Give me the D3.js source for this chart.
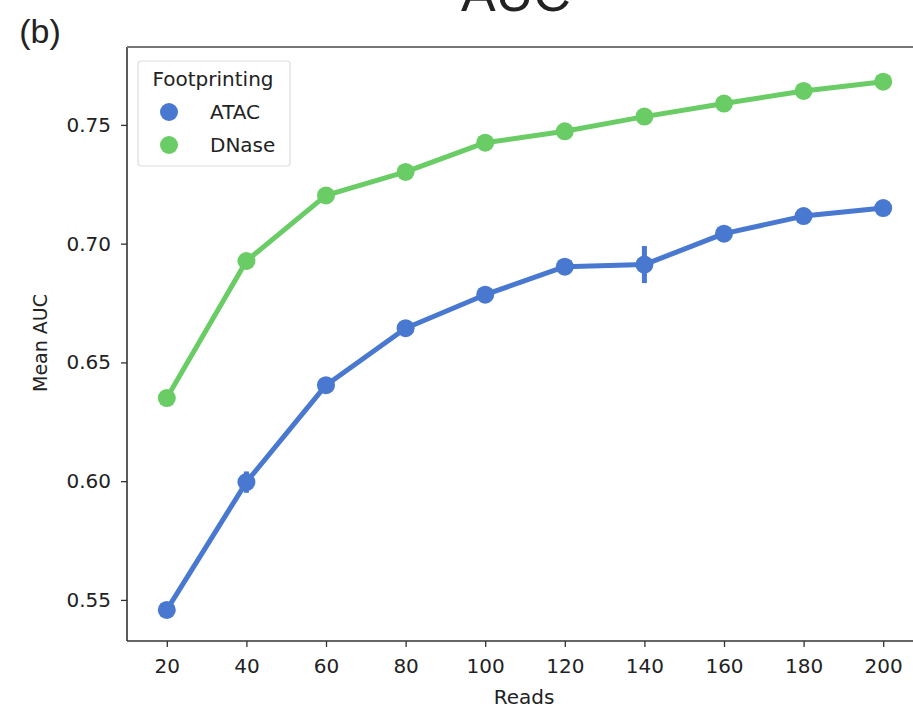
<html>
<head>
<script src="https://d3js.org/d3.v7.min.js"></script>
<style>
  body { margin: 0; background: #fff; }
  text { font-family: "DejaVu Sans", sans-serif; fill: #222; }
</style>
</head>
<body>
<div id="chart"></div>
<script>
// data
var reads = [20, 40, 60, 80, 100, 120, 140, 160, 180, 200];
var atacMean = [0.5458, 0.5996, 0.6404, 0.6644, 0.6785, 0.6903, 0.6912, 0.7042, 0.7116, 0.7150];
var atacErr  = [0.0030, 0.0045, 0.0020, 0.0015, 0.0015, 0.0012, 0.0078, 0.0015, 0.0012, 0.0015];
var dnaseMean = [0.6350, 0.6927, 0.7203, 0.7302, 0.7425, 0.7473, 0.7535, 0.7590, 0.7643, 0.7682];
var dnaseErr  = [0.0025, 0.0020, 0.0012, 0.0010, 0.0010, 0.0010, 0.0010, 0.0010, 0.0010, 0.0010];
var yTicks = [0.55, 0.60, 0.65, 0.70, 0.75];

var series = [
  {name: "ATAC", mean: atacMean, err: atacErr, color: "#4878cf"},
  {name: "DNase", mean: dnaseMean, err: dnaseErr, color: "#6acc65"}
];

var W = 913, H = 708;
var mLeft = 127, mTop = 47, mBottom = 641, mRight = 923;

var svg = d3.select("#chart").append("svg")
  .attr("width", W).attr("height", H);

// categorical x like a seaborn pointplot
var x = d3.scalePoint().domain(reads).range([mLeft, mRight]).padding(0.5);
var y = d3.scaleLinear().domain([0.5327, 0.7828]).range([mBottom, mTop]);

// title (cut off at the top, as in the source) and panel label
svg.append("text").attr("x", 516).attr("y", 11)
  .attr("text-anchor", "middle")
  .style("font-family", "Liberation Sans, Arial, sans-serif")
  .style("font-size", "52px").text("AUC");
svg.append("text").attr("x", 40).attr("y", 43)
  .attr("text-anchor", "middle")
  .style("font-family", "Liberation Sans, Arial, sans-serif")
  .style("font-size", "34px").text("(b)");

// axes
var xAxis = svg.append("g").attr("transform", "translate(0," + mBottom + ")")
  .call(d3.axisBottom(x).tickSize(6).tickPadding(12));
var yAxis = svg.append("g").attr("transform", "translate(" + mLeft + ",0)")
  .call(d3.axisLeft(y).tickValues(yTicks).tickFormat(d3.format(".2f")).tickSize(6).tickPadding(10));
[xAxis, yAxis].forEach(function (g) {
  g.selectAll("text").style("font-size", "20px").style("font-family", "DejaVu Sans, sans-serif").attr("fill", "#222");
  g.selectAll("line").attr("stroke", "#333").attr("stroke-width", 1.3);
  g.select(".domain").remove();
});

// spines
svg.append("line").attr("x1", mLeft).attr("x2", mLeft).attr("y1", mTop).attr("y2", mBottom)
  .attr("stroke", "#333").attr("stroke-width", 1.6);
svg.append("line").attr("x1", mLeft).attr("x2", W).attr("y1", mBottom).attr("y2", mBottom)
  .attr("stroke", "#333").attr("stroke-width", 1.6);
svg.append("line").attr("x1", mLeft).attr("x2", W).attr("y1", mTop).attr("y2", mTop)
  .attr("stroke", "#777").attr("stroke-width", 2.2);

// axis labels
svg.append("text").attr("x", 524).attr("y", 704)
  .attr("text-anchor", "middle").style("font-size", "20px").text("Reads");
svg.append("text").attr("transform", "translate(47,343) rotate(-90)")
  .attr("text-anchor", "middle").style("font-size", "19px").text("Mean AUC");

// lines, error bars, points
var line = d3.line().x(function (d, i) { return x(reads[i]); }).y(function (d) { return y(d); });
series.forEach(function (s) {
  var g = svg.append("g");
  g.append("path").datum(s.mean).attr("d", line)
    .attr("fill", "none").attr("stroke", s.color).attr("stroke-width", 5)
    .attr("stroke-linejoin", "round");
  g.selectAll("line.err").data(s.mean).enter().append("line")
    .attr("x1", function (d, i) { return x(reads[i]); })
    .attr("x2", function (d, i) { return x(reads[i]); })
    .attr("y1", function (d, i) { return y(d - s.err[i]); })
    .attr("y2", function (d, i) { return y(d + s.err[i]); })
    .attr("stroke", s.color).attr("stroke-width", 5);
  g.selectAll("circle").data(s.mean).enter().append("circle")
    .attr("cx", function (d, i) { return x(reads[i]); })
    .attr("cy", function (d) { return y(d); })
    .attr("r", 9).attr("fill", s.color);
});

// legend
var lg = svg.append("g");
lg.append("rect").attr("x", 138).attr("y", 61).attr("width", 152).attr("height", 105)
  .attr("rx", 3).attr("fill", "#fff").attr("stroke", "#ddd").attr("stroke-width", 1.2);
lg.append("text").attr("x", 213).attr("y", 86).attr("text-anchor", "middle")
  .style("font-size", "20px").text("Footprinting");
series.forEach(function (s, i) {
  var yy = 112 + i * 33;
  lg.append("circle").attr("cx", 169).attr("cy", yy).attr("r", 9).attr("fill", s.color);
  lg.append("text").attr("x", 210).attr("y", yy + 7).style("font-size", "20px").text(s.name);
});
</script>
</body>
</html>
